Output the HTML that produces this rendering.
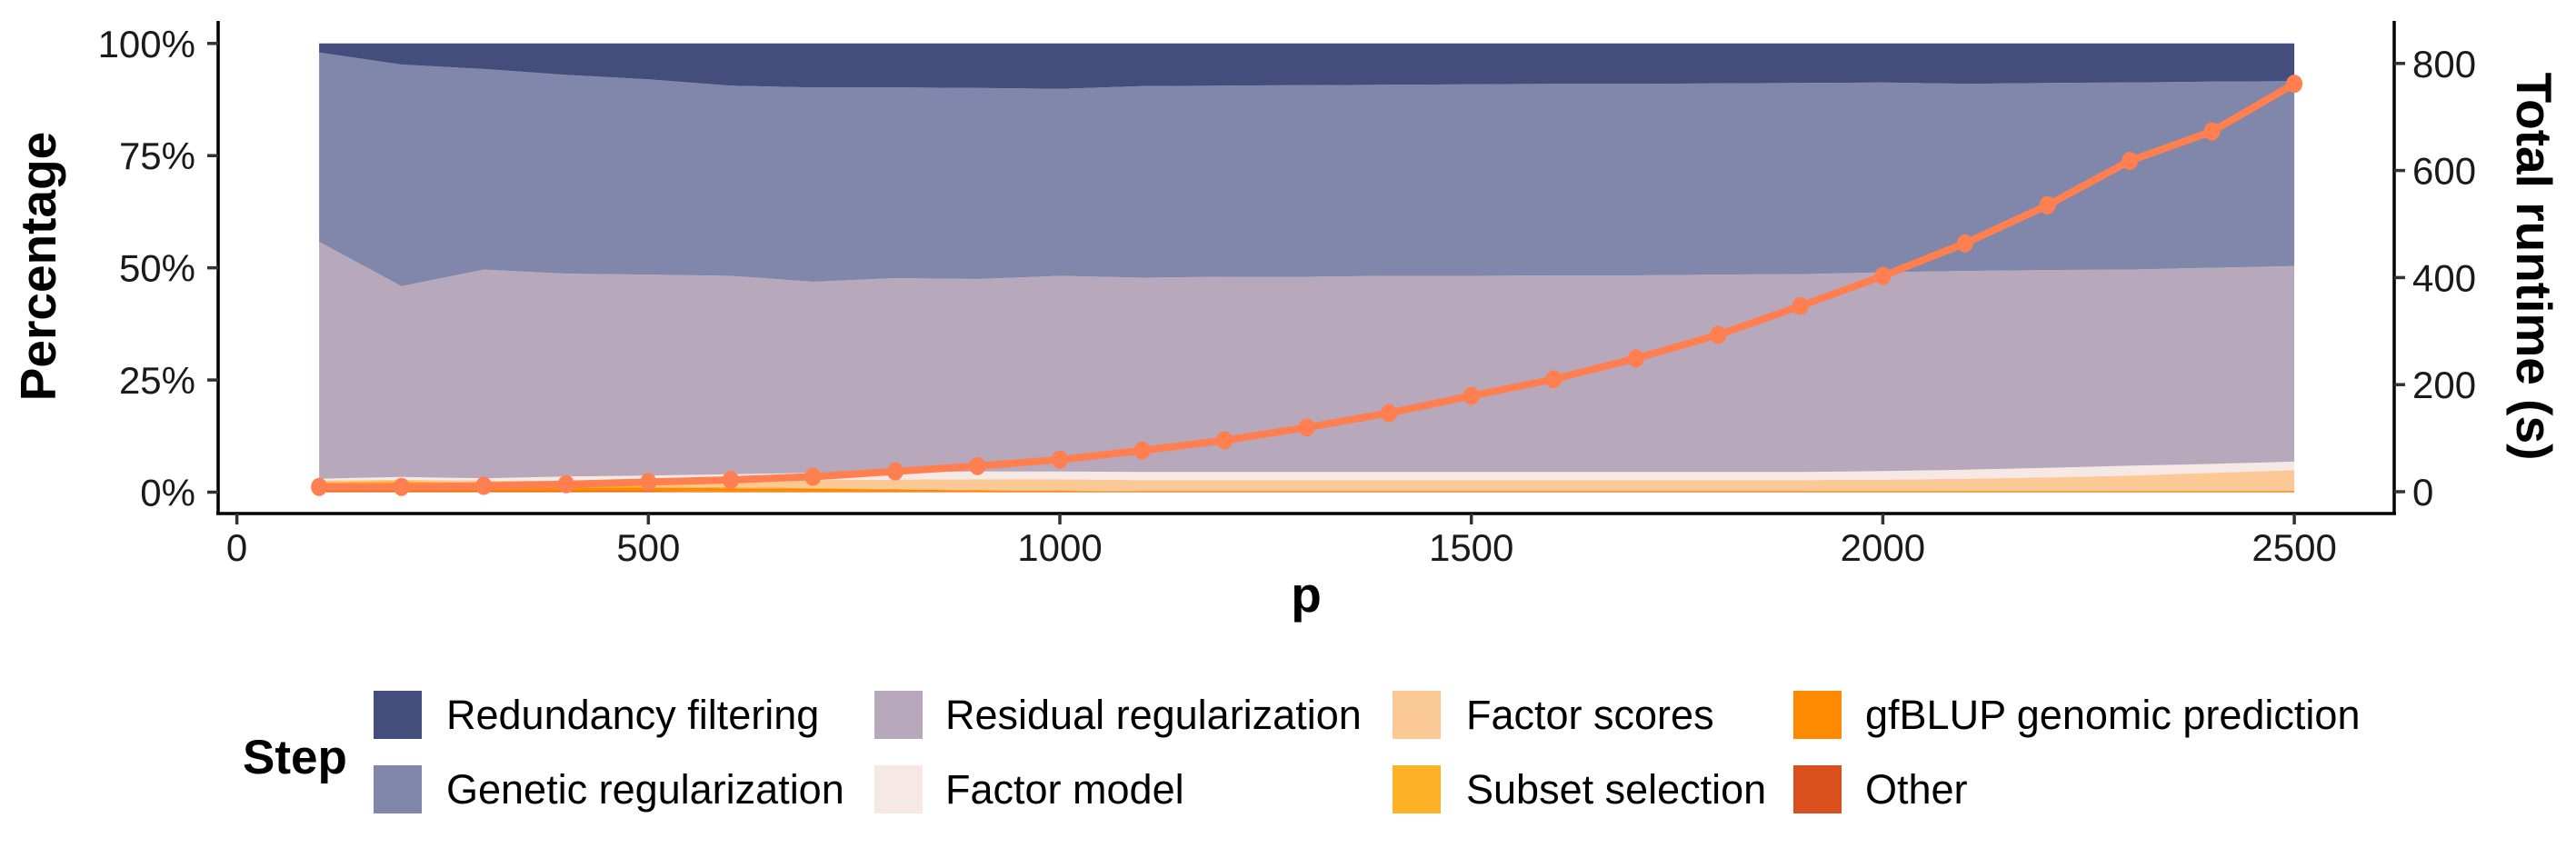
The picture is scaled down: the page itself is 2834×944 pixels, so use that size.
<!DOCTYPE html>
<html><head><meta charset="utf-8"><style>
html,body{margin:0;padding:0;background:#fff;}
svg{display:block;font-family:"Liberation Sans",Arial,sans-serif;}
</style></head><body>
<svg id="chart" width="2834" height="944" viewBox="0 0 2834 944">
<g id="areas"></g>
<g id="line"></g>
<g id="axes"></g>
<g id="legend"></g>
</svg>
<script>
const pValues = [100,200,300,400,500,600,700,800,900,1000,1100,1200,1300,1400,1500,1600,1700,1800,1900,2000,2100,2200,2300,2400,2500];
const otherPct = [0.2,0.2,0.2,0.2,0.2,0.1,0.1,0.1,0.1,0.1,0.1,0.1,0.1,0.1,0.1,0.1,0.1,0.1,0.1,0.1,0.1,0.1,0.1,0.1,0.1];
const gfblupPct = [1.0,1.1,1.0,0.9,0.8,0.8,0.7,0.5,0.3,0.2,0.1,0.1,0.1,0.1,0.1,0.1,0.1,0.1,0.1,0.1,0.1,0.1,0.1,0.1,0.1];
const subsetPct = [1.0,1.2,0.8,0.5,0.3,0.2,0.15,0.1,0.1,0.1,0.1,0.1,0.1,0.1,0.1,0.1,0.1,0.1,0.1,0.1,0.1,0.1,0.1,0.1,0.1];
const scoresPct = [0.4,0.3,0.6,0.9,1.2,1.5,1.85,2.1,2.4,2.5,2.4,2.4,2.4,2.4,2.4,2.4,2.4,2.4,2.4,2.5,2.7,3.0,3.4,4.0,4.6];
const modelPct = [0.4,0.6,0.5,1.0,1.2,1.4,1.5,1.7,1.7,1.7,1.8,1.8,1.8,1.8,1.8,1.8,1.8,1.8,1.8,1.9,2.0,2.1,2.2,2.0,1.9];
const residualPct = [52.8,42.5,46.5,45.2,44.8,44.2,42.6,43.2,42.9,43.6,43.3,43.5,43.5,43.7,43.7,43.8,43.8,44.0,44.1,44.3,44.3,44.1,43.7,43.7,43.6];
const geneticPct = [42.2,49.4,44.7,44.3,43.5,42.4,43.3,42.5,42.6,41.7,42.7,42.6,42.7,42.6,42.7,42.7,42.7,42.6,42.6,42.3,41.7,41.7,41.7,41.5,41.2];
const redundancyPct = [2.0,4.7,5.7,7.0,8.0,9.4,9.8,9.8,9.9,10.1,9.5,9.4,9.3,9.2,9.1,9.0,9.0,8.9,8.8,8.7,9.0,8.8,8.7,8.5,8.4];
const runtimeSec = [9,9,11,14,18,22,28,38,48,60,77,96,120,147,179,210,249,293,347,403,464,535,618,673,762];
const xTicks = [0,500,1000,1500,2000,2500];
const yTicks = [0,25,50,75,100];
const yTickLabels = ["0%","25%","50%","75%","100%"];
const rTicks = [0,200,400,600,800];

const NS="http://www.w3.org/2000/svg";
const X0=260.6, XS=0.9054;
const xs = p => X0 + p*XS;
const ys = v => 541.5 - v*4.937;
const yr = v => 541 - v*0.589;
function mk(tag, parent, attrs){const e=document.createElementNS(NS,tag);for(const k in attrs)e.setAttribute(k,attrs[k]);parent.appendChild(e);return e;}

const layers = [
  ["other", otherPct, "#D9501E", "Other"],
  ["gfblup", gfblupPct, "#FF8A00", "gfBLUP genomic prediction"],
  ["subset", subsetPct, "#FDB127", "Subset selection"],
  ["factor-scores", scoresPct, "#FBC995", "Factor scores"],
  ["factor-model", modelPct, "#F6E8E4", "Factor model"],
  ["residual", residualPct, "#B7A9BB", "Residual regularization"],
  ["genetic", geneticPct, "#8087AA", "Genetic regularization"],
  ["redundancy", redundancyPct, "#434E7D", "Redundancy filtering"]
];
const totals = pValues.map((_,i)=>layers.reduce((s,l)=>s+l[1][i],0));
const areasG=document.getElementById('areas');
let base = pValues.map(()=>0);
for(const [key, arr, col] of layers){
  const top = base.map((b,i)=>b + arr[i]/totals[i]*100);
  let d = "M"+pValues.map((p,i)=>xs(p).toFixed(1)+","+ys(top[i]).toFixed(1)).join("L");
  for(let i=pValues.length-1;i>=0;i--) d += "L"+xs(pValues[i]).toFixed(1)+","+ys(base[i]).toFixed(1);
  d+="Z";
  const el=mk('path',areasG,{d:d,fill:col});
  
  
  base = top;
}
const lineG=document.getElementById('line');
const ln=mk('polyline',lineG,{points:pValues.map((p,i)=>xs(p).toFixed(1)+","+yr(runtimeSec[i]).toFixed(1)).join(" "),fill:"none",stroke:"#FF7F50","stroke-width":8,"stroke-linejoin":"round"});


pValues.forEach((p,i)=>{
  const c=mk('ellipse',lineG,{cx:xs(p),cy:yr(runtimeSec[i]),rx:9,ry:10,fill:"#FF7F50"});
  
  
});

const ax=document.getElementById('axes');
let e;
e=mk('line',ax,{x1:240,y1:23,x2:240,y2:566,stroke:"#000","stroke-width":3.5});  
e=mk('line',ax,{x1:2634,y1:23,x2:2634,y2:566,stroke:"#000","stroke-width":3.5});  
e=mk('line',ax,{x1:238,y1:565,x2:2636,y2:565,stroke:"#000","stroke-width":3.5});  
yTicks.forEach((v,i)=>{
  e=mk('line',ax,{x1:228,y1:ys(v),x2:240,y2:ys(v),stroke:"#333","stroke-width":3.5});  
  e=mk('text',ax,{x:215,y:ys(v)+15,"text-anchor":"end","font-size":42,fill:"#1a1a1a"}); e.textContent=yTickLabels[i];  
});
xTicks.forEach(v=>{
  e=mk('line',ax,{x1:xs(v),y1:565,x2:xs(v),y2:577,stroke:"#333","stroke-width":3.5});  
  e=mk('text',ax,{x:xs(v),y:617,"text-anchor":"middle","font-size":42,fill:"#1a1a1a"}); e.textContent=v;  
});
rTicks.forEach(v=>{
  e=mk('line',ax,{x1:2634,y1:yr(v),x2:2646,y2:yr(v),stroke:"#333","stroke-width":3.5});  
  e=mk('text',ax,{x:2654,y:yr(v)+15,"text-anchor":"start","font-size":42,fill:"#1a1a1a"}); e.textContent=v;  
});
e=mk('text',ax,{x:0,y:0,transform:"translate(61,293) rotate(-90)","text-anchor":"middle","font-size":55,"font-weight":"bold"}); e.textContent="Percentage";  
e=mk('text',ax,{x:0,y:0,transform:"translate(2769,293) rotate(90)","text-anchor":"middle","font-size":55,"font-weight":"bold"}); e.textContent="Total runtime (s)";  
e=mk('text',ax,{x:1437,y:673,"text-anchor":"middle","font-size":55,"font-weight":"bold"}); e.textContent="p";  

const lg=document.getElementById('legend');
e=mk('text',lg,{x:267,y:851,"font-size":53,"font-weight":"bold"}); e.textContent="Step";  
const legendOrder=["redundancy","genetic","residual","factor-model","factor-scores","subset","gfblup","other"];
const colKeyX=[411,962,1532,1973], colLabX=[491,1040,1613,2052], rowY=[760,842];
legendOrder.forEach((k,i)=>{
  const L=layers.find(l=>l[0]===k); const c=Math.floor(i/2), r=i%2;
  const g=mk('g',lg,{});
  
  
  mk('rect',g,{x:colKeyX[c],y:rowY[r],width:53,height:53,fill:L[2]});
  const t=mk('text',g,{x:colLabX[c],y:rowY[r]+42,"font-size":45,fill:"#000"}); t.textContent=L[3];
});
</script>
</body></html>
